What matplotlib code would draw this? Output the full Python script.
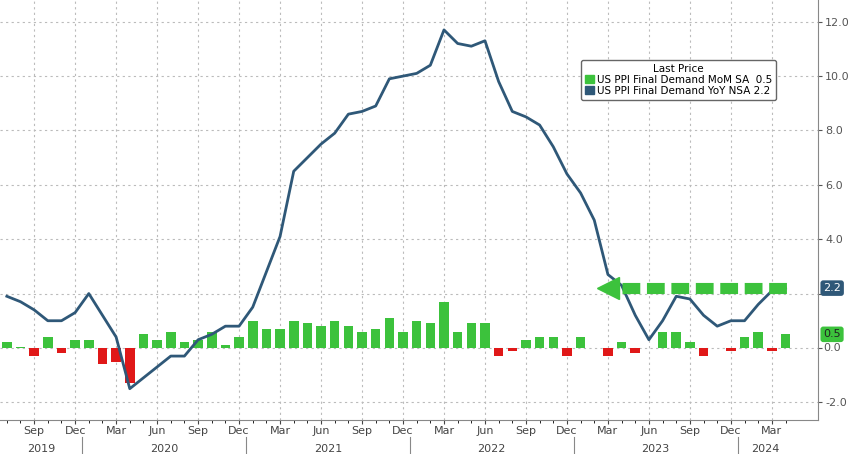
import numpy as np
import pandas as pd
import matplotlib
matplotlib.use("Agg")
import matplotlib.pyplot as plt

months = pd.date_range("2019-07-01", "2024-04-01", freq="MS")

yoy = [1.9, 1.7, 1.4, 1.0, 1.0, 1.3,
       2.0, 1.2, 0.4, -1.5, -1.1, -0.7, -0.3, -0.3, 0.3, 0.5, 0.8, 0.8,
       1.5, 2.8, 4.1, 6.5, 7.0, 7.5, 7.9, 8.6, 8.7, 8.9, 9.9, 10.0,
       10.1, 10.4, 11.7, 11.2, 11.1, 11.3, 9.8, 8.7, 8.5, 8.2, 7.4, 6.4,
       5.7, 4.7, 2.7, 2.3, 1.2, 0.3, 1.0, 1.9, 1.8, 1.2, 0.8, 1.0,
       1.0, 1.6, 2.1, 2.2]
mom = [0.2, 0.05, -0.3, 0.4, -0.2, 0.3,
       0.3, -0.6, -0.5, -1.3, 0.5, 0.3, 0.6, 0.2, 0.3, 0.6, 0.1, 0.4,
       1.0, 0.7, 0.7, 1.0, 0.9, 0.8, 1.0, 0.8, 0.6, 0.7, 1.1, 0.6,
       1.0, 0.9, 1.7, 0.6, 0.9, 0.9, -0.3, -0.1, 0.3, 0.4, 0.4, -0.3,
       0.4, 0.0, -0.3, 0.2, -0.2, 0.0, 0.6, 0.6, 0.2, -0.3, 0.0, -0.1,
       0.4, 0.6, -0.1, 0.5]

x = np.arange(len(months))
green = "#3cc23c"
red = "#e01818"
blue = "#2f5878"

fig = plt.figure(figsize=(8.48, 4.54), dpi=100)
ax = fig.add_axes([0.0, 0.075, 0.965, 0.925])

colors = [green if v >= 0 else red for v in mom]
ax.bar(x, mom, width=0.7, color=colors, zorder=2)
ax.plot(x, yoy, color=blue, lw=2, zorder=3)

# dashed arrow toward the latest YoY level
ax.plot([x[-13], x[-1] + 0.3], [yoy[-1], yoy[-1]], color=green, lw=8,
        ls=(0, (1.6, 0.6)), solid_capstyle="butt", zorder=4)
ax.plot([x[-14]], [yoy[-1]], marker="<", ms=16, color=green, mec=green, zorder=4)

ax.set_xlim(-0.5, len(x) + 1.4)
ax.set_ylim(-2.65, 12.8)

yt = [-2, 0, 2, 4, 6, 8, 10, 12]
ax.yaxis.tick_right()
ax.set_yticks(yt)
ax.set_yticklabels([f"{v:.1f}" for v in yt])
ax.tick_params(axis="y", labelsize=8, colors="#555555", length=3, pad=2)
for t, v in zip(ax.get_yticklabels(), yt):
    if v in (0, 2):
        t.set_visible(False)

qpos = [i for i, m in enumerate(months) if m.month in (3, 6, 9, 12)]
qlab = [months[i].strftime("%b") for i in qpos]
ax.set_xticks(qpos)
ax.set_xticklabels(qlab)
ax.set_xticks(x, minor=True)
ax.tick_params(axis="x", labelsize=8, colors="#444444", length=3, pad=1)
ax.tick_params(axis="x", which="minor", length=2)

ax.grid(True, color="#bbbbbb", ls=(0, (2, 3)), lw=0.8, zorder=0)
for s in ["top", "left"]:
    ax.spines[s].set_visible(False)
ax.spines["right"].set_color("#888888")
ax.spines["bottom"].set_color("#888888")

# year labels
for yr in range(2019, 2025):
    idx = [i for i, m in enumerate(months) if m.year == yr]
    ax.text(np.mean(idx), -0.058, str(yr), transform=ax.get_xaxis_transform(),
            ha="center", va="top", fontsize=8, color="#444444")
    if yr > 2019:
        ax.plot([idx[0] - 0.5] * 2, [-0.04, -0.08], transform=ax.get_xaxis_transform(),
                color="#888888", lw=0.8, clip_on=False)

# value boxes on right axis
for val, c in [(yoy[-1], blue), (mom[-1], green)]:
    ax.text(1.006, val, f"{val:.1f}", transform=ax.get_yaxis_transform(),
            va="center", ha="left", fontsize=8, color="white" if c == blue else "#222222",
            bbox=dict(boxstyle="round,pad=0.25", fc=c, ec="none"))
ax.text(1.006, 0, "0.0", transform=ax.get_yaxis_transform(), va="center",
        ha="left", fontsize=8, color="#555555")

leg = ax.legend(handles=[plt.Rectangle((0, 0), 1, 1, color=green),
                         plt.Rectangle((0, 0), 1, 1, color=blue)],
                labels=["US PPI Final Demand MoM SA  0.5", "US PPI Final Demand YoY NSA 2.2"],
                title="Last Price", loc="upper right", bbox_to_anchor=(0.955, 0.87),
                fontsize=7.5, title_fontsize=7.5, handlelength=0.8, handleheight=0.8,
                handletextpad=0.3, borderpad=0.4, labelspacing=0.1, fancybox=True,
                edgecolor="#666666", framealpha=1)

fig.savefig("out.png", dpi=100)
